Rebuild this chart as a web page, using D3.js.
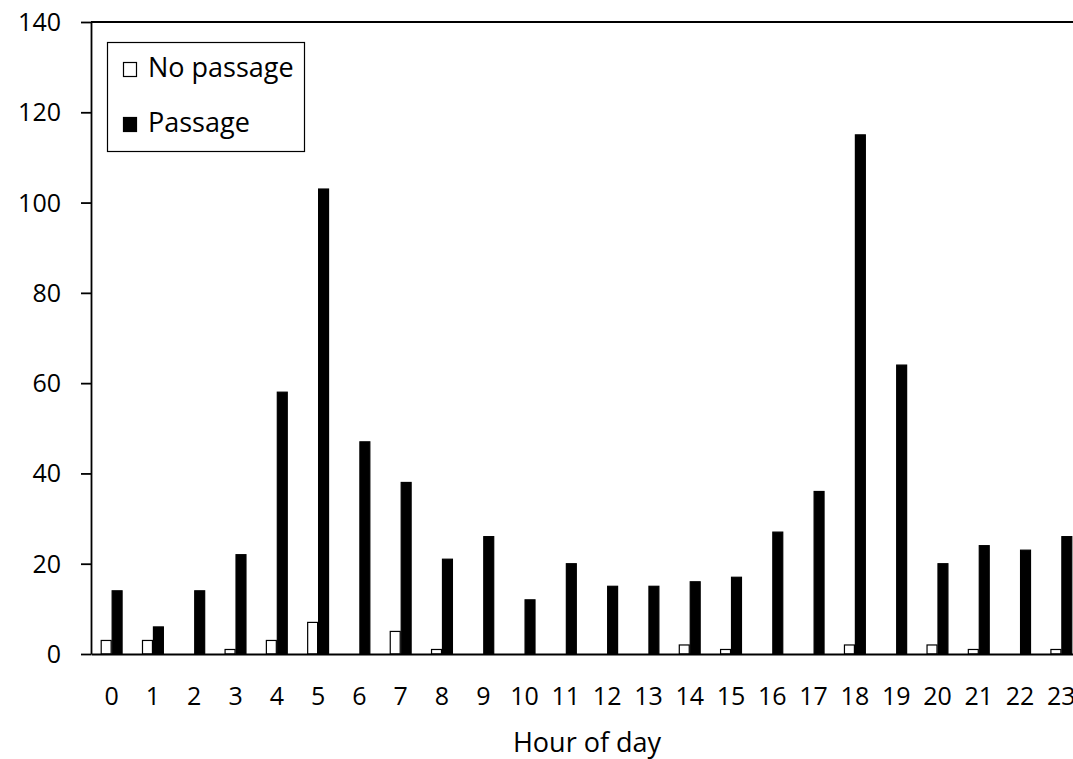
<!DOCTYPE html>
<html>
<head>
<meta charset="utf-8">
<script src="https://cdn.jsdelivr.net/npm/d3@7"></script>
<style>
  html, body { margin: 0; padding: 0; background: #fff; overflow: hidden; }
  svg { display: block; font-family: "Open Sans", sans-serif; }
</style>
</head>
<body>
<svg id="chart" width="1073" height="759"></svg>
<script>
// ── Data ──────────────────────────────────────────────────────────────────────
const hours     = d3.range(0, 24).map(String);
const seriesKeys = ["No passage", "Passage"];
const noPassage = [3, 3, 0, 1, 3, 7, 0, 5, 1, 0, 0, 0, 0, 0, 2, 1, 0, 0, 2, 0, 2, 1, 0, 1];
const passage   = [14, 6, 14, 22, 58, 103, 47, 38, 21, 26, 12, 20, 15, 15, 16, 17, 27, 36, 115, 64, 20, 24, 23, 26];
const yTicks    = [0, 20, 40, 60, 80, 100, 120, 140];

const rows = hours.map((h, i) => ({ hour: h, "No passage": noPassage[i], "Passage": passage[i] }));
const fills = { "No passage": "#fff", "Passage": "#000" };

// ── Layout ────────────────────────────────────────────────────────────────────
const svg = d3.select("#chart");
const plot = { left: 91, top: 22, right: 1082, bottom: 654 };

const x0 = d3.scaleBand()
  .domain(hours)
  .range([plot.left, plot.right])
  .paddingInner(0.47)
  .paddingOuter(0.235);

const x1 = d3.scaleBand()
  .domain(seriesKeys)
  .range([0, x0.bandwidth()]);

const y = d3.scaleLinear().domain([0, 140]).range([plot.bottom, plot.top]);

// ── Bars ──────────────────────────────────────────────────────────────────────
svg.append("g")
  .selectAll("g")
  .data(rows)
  .join("g")
  .attr("transform", (d) => `translate(${x0(d.hour)},0)`)
  .selectAll("rect")
  .data((d) => seriesKeys.map((k) => ({ key: k, value: d[k] })).filter((d) => d.value > 0))
  .join("rect")
  .attr("x", (d) => x1(d.key) + 0.5)
  .attr("y", (d) => y(d.value))
  .attr("width", x1.bandwidth() - 1)
  .attr("height", (d) => y(0) - y(d.value))
  .attr("fill", (d) => fills[d.key])
  .attr("stroke", "#000")
  .attr("stroke-width", 1.2);

// ── Axes ──────────────────────────────────────────────────────────────────────
const yAxis = svg.append("g")
  .attr("transform", `translate(${plot.left},0)`)
  .call(d3.axisLeft(y).tickValues(yTicks).tickSize(10).tickPadding(20).tickSizeOuter(0));
yAxis.select(".domain").attr("stroke-width", 1.8);
yAxis.selectAll(".tick line").attr("stroke-width", 1.8);
yAxis.selectAll(".tick text")
  .attr("font-size", 25)
  .attr("font-family", "Open Sans")
  .attr("fill", "#000")
  .attr("dy", "0.34em");

const xAxis = svg.append("g")
  .attr("transform", `translate(0,${plot.bottom})`)
  .call(d3.axisBottom(x0).tickSize(0).tickPadding(33));
xAxis.select(".domain").attr("stroke-width", 2);
xAxis.selectAll(".tick text")
  .attr("font-size", 25)
  .attr("font-family", "Open Sans")
  .attr("fill", "#000")
  .attr("dy", "0.71em");

// top border of the plot area
svg.append("line")
  .attr("x1", plot.left).attr("x2", plot.right)
  .attr("y1", plot.top).attr("y2", plot.top)
  .attr("stroke", "#000").attr("stroke-width", 1.8);

svg.append("text")
  .attr("x", 587).attr("y", 752)
  .attr("text-anchor", "middle")
  .attr("font-size", 27)
  .text("Hour of day");

// ── Legend ────────────────────────────────────────────────────────────────────
const legend = svg.append("g");
legend.append("rect")
  .attr("x", 107.5).attr("y", 42.5)
  .attr("width", 197).attr("height", 109)
  .attr("fill", "#fff").attr("stroke", "#000").attr("stroke-width", 1.2);

const items = legend.selectAll("g.item")
  .data(seriesKeys)
  .join("g")
  .attr("class", "item")
  .attr("transform", (d, i) => `translate(0,${i * 55})`);

items.append("rect")
  .attr("x", 123.5).attr("y", 62.5)
  .attr("width", 13).attr("height", 14)
  .attr("fill", (d) => fills[d])
  .attr("stroke", "#000").attr("stroke-width", 1.2);

items.append("text")
  .attr("x", 148).attr("y", 77)
  .attr("font-size", 27)
  .text((d) => d);
</script>
</body>
</html>
